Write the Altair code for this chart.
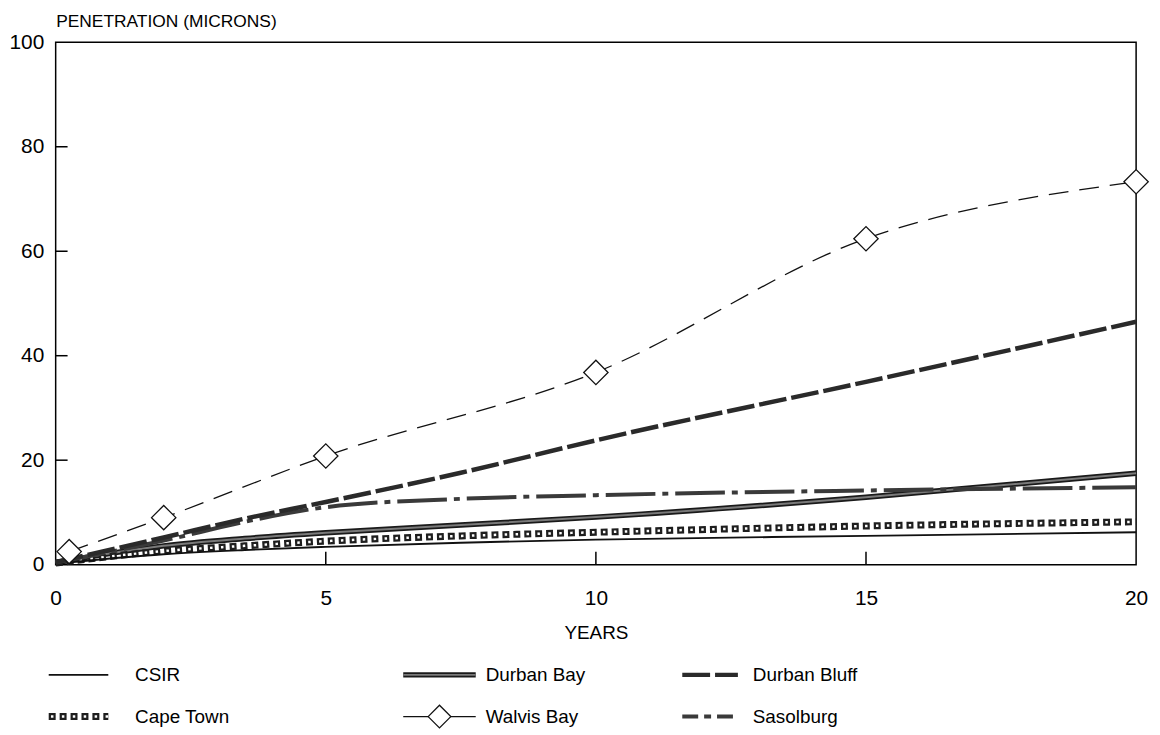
import altair as alt
import pandas as pd

# ---------------- data ----------------
years = [0, 2, 3.5, 5, 7.5, 10, 15, 20]
csir = [0.2, 2.0, 2.8, 3.4, 4.2, 4.8, 5.5, 6.2]
cape_town = [0.3, 2.6, 3.6, 4.5, 5.5, 6.2, 7.4, 8.2]
durban_bay = [0.4, 3.6, 5.0, 6.1, 7.6, 9.1, 12.9, 17.5]
sasolburg = [0.4, 4.6, 8.2, 11.0, 12.6, 13.3, 14.2, 14.8]
durban_bluff = [0.5, 5.2, 8.8, 12.0, 17.6, 23.8, 35.0, 46.5]
walvis_years = [0.25, 2, 5, 10, 15, 20]
walvis_bay = [2.5, 9.0, 20.8, 36.8, 62.4, 73.3]

series_names = ["CSIR", "Durban Bay", "Durban Bluff", "Cape Town", "Walvis Bay", "Sasolburg"]
x_tick_labels = [0, 5, 10, 15, 20]
y_tick_labels = [0, 20, 40, 60, 80, 100]
x_inner_ticks = [5, 10, 15]
y_inner_ticks = [20, 40, 60, 80]

rows = []
for name, vals in [("CSIR", csir), ("Cape Town", cape_town), ("Durban Bay", durban_bay),
                   ("Sasolburg", sasolburg), ("Durban Bluff", durban_bluff)]:
    for x, v in zip(years, vals):
        rows.append({"series": name, "year": x, "value": v})
for x, v in zip(walvis_years, walvis_bay):
    rows.append({"series": "Walvis Bay", "year": x, "value": v})
df = pd.DataFrame(rows)

# ---------------- layout / style ----------------
FONT = "Liberation Sans"
W, H = 1088, 526
PLOT_LEFT = 55

STYLES = {
    "Durban Bay": [dict(color="#1a1a1a", strokeWidth=5.5),
                   dict(color="#7a7a7a", strokeWidth=2)],
    "Cape Town": [dict(color="#1e1e1e", strokeWidth=7, strokeDash=[7, 4]),
                  dict(color="white", strokeWidth=2.5, strokeDash=[2.5, 8.5], strokeDashOffset=8.75)],
    "CSIR": [dict(color="#111111", strokeWidth=1.9)],
    "Sasolburg": [dict(color="#3a3a3a", strokeWidth=4, strokeDash=[50, 7, 6, 7])],
    "Durban Bluff": [dict(color="#2a2a2a", strokeWidth=4.5, strokeDash=[28, 5])],
    "Walvis Bay": [dict(color="#111111", strokeWidth=1.3, strokeDash=[20, 11])],
}
DRAW_ORDER = ["Durban Bay", "Cape Town", "CSIR", "Sasolburg", "Durban Bluff", "Walvis Bay"]
LEGEND_OVERRIDE = {
    "Sasolburg": [dict(color="#3a3a3a", strokeWidth=4, strokeDash=[16, 6, 7, 6])],
    "Walvis Bay": [dict(color="#111111", strokeWidth=1.3)],
}

x_scale = alt.Scale(domain=[0, 20], nice=False, zero=False)
y_scale = alt.Scale(domain=[0, 100], nice=False, zero=False)

x_enc = alt.X("year:Q", scale=x_scale,
              axis=alt.Axis(values=x_tick_labels, title="YEARS", format="d",
                            labelFontSize=21, labelPadding=23, labelFlush=False,
                            ticks=False, tickSize=0, domain=False, grid=False,
                            titleFontSize=19, titleFontWeight="normal", titlePadding=15))
y_enc = alt.Y("value:Q", scale=y_scale,
              axis=alt.Axis(values=y_tick_labels, title="PENETRATION (MICRONS)", format="d",
                            labelFontSize=21, labelPadding=12, labelFlush=False,
                            ticks=False, tickSize=0, domain=False, grid=False,
                            titleAngle=0, titleAlign="left", titleBaseline="alphabetic",
                            titleX=0, titleY=-16, titleFontSize=17.5, titleFontWeight="normal"))

layers = []
for name in DRAW_ORDER:
    for st in STYLES[name]:
        layers.append(
            alt.Chart(df).transform_filter(alt.datum.series == name)
            .mark_line(interpolate="monotone", **st)
            .encode(x=x_enc, y=y_enc)
        )

layers.append(
    alt.Chart(df).transform_filter(alt.datum.series == "Walvis Bay")
    .mark_point(shape="diamond", size=600, filled=True, fill="white", stroke="#111111",
                strokeWidth=1.3, opacity=1, fillOpacity=1)
    .encode(x=x_enc, y=y_enc)
)

# inward tick marks
xt = pd.DataFrame({"year": x_inner_ticks})
yt = pd.DataFrame({"value": y_inner_ticks})
layers.append(
    alt.Chart(xt).mark_rule(color="black", strokeWidth=1.5)
    .encode(x=x_enc, y=alt.value(H), y2=alt.value(H - 13))
)
layers.append(
    alt.Chart(yt).mark_rule(color="black", strokeWidth=1.5)
    .encode(y=y_enc, x=alt.value(0), x2=alt.value(12))
)

main = alt.layer(*layers).properties(
    width=W, height=H,
    view=alt.ViewBackground(stroke="black", strokeWidth=1.5),
)

# ---------------- legend ----------------
col_x0 = [48, 405, 686]
col_x1 = [108, 478, 742]
col_label = [135, 488, 757]
row_y = [676, 718]
legend_pos = {"CSIR": (0, 0), "Durban Bay": (1, 0), "Durban Bluff": (2, 0),
              "Cape Town": (0, 1), "Walvis Bay": (1, 1), "Sasolburg": (2, 1)}

LT, LH = 654, 72
lrows, trows = [], []
for name in series_names:
    c, r = legend_pos[name]
    lrows.append({"series": name, "px": col_x0[c], "py": row_y[r]})
    lrows.append({"series": name, "px": col_x1[c], "py": row_y[r]})
    trows.append({"series": name, "px": col_label[c], "py": row_y[r]})
ldf = pd.DataFrame(lrows)
tdf = pd.DataFrame(trows)
ddf = pd.DataFrame([{"px": (col_x0[1] + col_x1[1]) / 2, "py": row_y[1]}])

lx = alt.X("px:Q", scale=alt.Scale(domain=[PLOT_LEFT, PLOT_LEFT + W], nice=False, zero=False), axis=None)
ly = alt.Y("py:Q", scale=alt.Scale(domain=[LT, LT + LH], nice=False, zero=False, reverse=True), axis=None)

leg_layers = []
for name in DRAW_ORDER:
    for st in LEGEND_OVERRIDE.get(name, STYLES[name]):
        leg_layers.append(
            alt.Chart(ldf).transform_filter(alt.datum.series == name)
            .mark_line(**st).encode(x=lx, y=ly)
        )
leg_layers.append(
    alt.Chart(ddf).mark_point(shape="diamond", size=520, filled=True, fill="white",
                              stroke="#111111", strokeWidth=1.3, opacity=1, fillOpacity=1)
    .encode(x=lx, y=ly)
)
leg_layers.append(
    alt.Chart(tdf).mark_text(align="left", baseline="middle", fontSize=19, font=FONT, color="black")
    .encode(x=lx, y=ly, text="series:N")
)
legend = alt.layer(*leg_layers).properties(
    width=W, height=LH,
    view=alt.ViewBackground(strokeWidth=0),
)

chart = (
    alt.vconcat(main, legend, spacing=10)
    .properties(padding={"left": 0, "top": 1, "right": 0, "bottom": 0}, background="white")
    .configure_axis(labelFont=FONT, titleFont=FONT, labelColor="black", titleColor="black")
    .configure_view(strokeWidth=0)
)

chart.save("out.html", embed_options={"renderer": "svg", "actions": False})
